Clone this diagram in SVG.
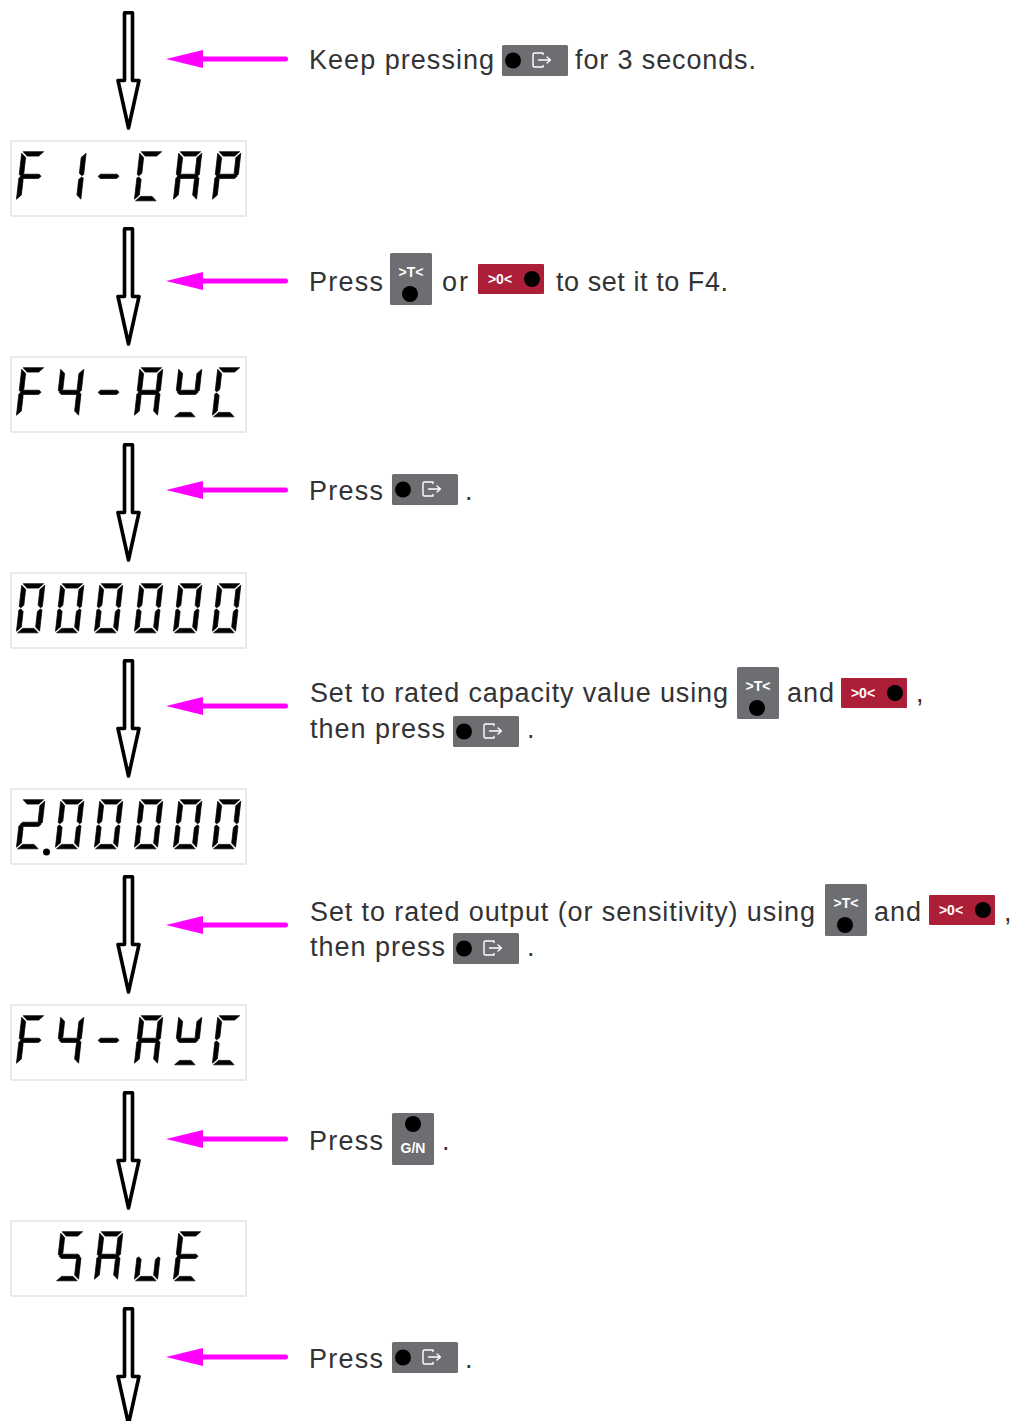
<svg xmlns="http://www.w3.org/2000/svg" width="1014" height="1421" viewBox="0 0 1014 1421">
<style>
.t{font-family:"Liberation Sans",Arial,sans-serif;font-size:27px;fill:#333335}
.box{fill:#fff;stroke:#dcdcdc;stroke-width:1.2}
.seg{fill:#000;stroke:#000;stroke-width:0.7;stroke-linejoin:round}
.down{fill:#fff;stroke:#000;stroke-width:3.6;stroke-linejoin:round}
.shaft{stroke:#f0f;stroke-width:5;stroke-linecap:round}
.head{fill:#f0f}
.bg{fill:#6d6e71}
.rd{fill:#ad1f38}
.dot{fill:#000}
.k{font-family:"Liberation Sans",Arial,sans-serif;font-weight:bold;fill:#fff;text-anchor:middle}
.ic{fill:none;stroke:#fff;stroke-width:1.4;stroke-linejoin:round;stroke-linecap:round}
</style>
<defs>
<polygon id="sa" class="seg" points="1.500,0.200 22,0.200 17.500,4.600 6,4.600"/>
<polygon id="sb" class="seg" points="23.300,1.800 23.300,23 21.500,24.200 18.900,21.800 18.900,6"/>
<polygon id="sc" class="seg" points="23.300,26.500 23.300,47.700 18.900,43.500 18.900,28 21.500,25.400"/>
<polygon id="sd" class="seg" points="6,44.900 17.500,44.900 22,49.300 1.500,49.300"/>
<polygon id="se" class="seg" points="0.200,26.500 2,25.400 4.600,28 4.600,43.500 0.200,47.700"/>
<polygon id="sf" class="seg" points="0.200,1.800 4.600,6 4.600,21.800 2,24.200 0.200,23"/>
<polygon id="sg" class="seg" points="3.500,22.700 20,22.700 22.200,24.800 20,26.900 3.500,26.900 1.300,24.800"/>
<g id="d0"><use href="#sa"/><use href="#sb"/><use href="#sc"/><use href="#sd"/><use href="#se"/><use href="#sf"/></g>
<g id="dF"><use href="#sa"/><use href="#se"/><use href="#sf"/><use href="#sg"/></g>
<g id="d1"><use href="#sb"/><use href="#sc"/></g>
<g id="dm"><use href="#sg"/></g>
<g id="dC"><use href="#sa"/><use href="#sd"/><use href="#se"/><use href="#sf"/></g>
<g id="dA"><use href="#sa"/><use href="#sb"/><use href="#sc"/><use href="#se"/><use href="#sf"/><use href="#sg"/></g>
<g id="dP"><use href="#sa"/><use href="#sb"/><use href="#se"/><use href="#sf"/><use href="#sg"/></g>
<g id="d4"><use href="#sb"/><use href="#sc"/><use href="#sf"/><use href="#sg"/></g>
<g id="dY"><use href="#sb"/><use href="#sd"/><use href="#sf"/><use href="#sg"/></g>
<g id="d2"><use href="#sa"/><use href="#sb"/><use href="#sd"/><use href="#se"/><use href="#sg"/></g>
<g id="dS"><use href="#sa"/><use href="#sc"/><use href="#sd"/><use href="#sf"/><use href="#sg"/></g>
<g id="du"><use href="#sc"/><use href="#sd"/><use href="#se"/></g>
<g id="dE"><use href="#sa"/><use href="#sd"/><use href="#se"/><use href="#sf"/><use href="#sg"/></g>
<path id="down" class="down" d="M124.500,1.800H132.500V69.500H139L128.500,117L118,69.500H124.500Z"/>
<g id="mag"><line class="shaft" x1="200" y1="0" x2="285.500" y2="0"/><polygon class="head" points="166,0 203,-9 203,9"/></g>
<g id="bExit"><rect class="bg" width="66" height="31" rx="1.500"/><circle class="dot" cx="11" cy="15.500" r="8"/><path class="ic" d="M41,9.500V8H32.500A1.500,1.500 0 0 0 31,9.500V20.500A1.500,1.500 0 0 0 32.500,22H41V20.500M36.500,15H48M45,12L48.500,15L45,18"/></g>
<g id="bT"><rect class="bg" width="42" height="52" rx="1.500"/><text class="k" x="21" y="23.500" font-size="14">&gt;T&lt;</text><circle class="dot" cx="20" cy="41" r="8"/></g>
<g id="bZ"><rect class="rd" width="66" height="30" rx="1"/><text class="k" x="22" y="19.500" font-size="14">&gt;0&lt;</text><circle class="dot" cx="54" cy="15" r="8"/></g>
<g id="bG"><rect class="bg" width="42" height="52" rx="1.500"/><circle class="dot" cx="21" cy="11" r="8"/><text class="k" x="21" y="39.500" font-size="14">G/N</text></g>
</defs>

<g id="connectors">
<use href="#down" x="0" y="11"/>
<use href="#down" x="0" y="227"/>
<use href="#down" x="0" y="443"/>
<use href="#down" x="0" y="659"/>
<use href="#down" x="0" y="875"/>
<use href="#down" x="0" y="1091"/>
<use href="#down" x="0" y="1307"/>
<use href="#mag" x="0" y="59"/>
<use href="#mag" x="0" y="281"/>
<use href="#mag" x="0" y="490"/>
<use href="#mag" x="0" y="706"/>
<use href="#mag" x="0" y="925"/>
<use href="#mag" x="0" y="1139"/>
<use href="#mag" x="0" y="1357"/>
</g>

<g id="display-f1-cap">
<rect class="box" x="11" y="141" width="235" height="75"/>
<use href="#dF" transform="translate(21.700,151.500) skewX(-6.500)"/>
<use href="#d1" transform="translate(63,151.500) skewX(-6.500)"/>
<use href="#dm" transform="translate(99.700,151.500) skewX(-6.500)"/>
<use href="#dC" transform="translate(139.700,151.500) skewX(-6.500)"/>
<use href="#dA" transform="translate(178.700,151.500) skewX(-6.500)"/>
<use href="#dP" transform="translate(217.700,151.500) skewX(-6.500)"/>
</g>
<g id="display-f4-avc-1">
<rect class="box" x="11" y="357" width="235" height="75"/>
<use href="#dF" transform="translate(21.700,367.500) skewX(-6.500)"/>
<use href="#d4" transform="translate(60.700,367.500) skewX(-6.500)"/>
<use href="#dm" transform="translate(99.700,367.500) skewX(-6.500)"/>
<use href="#dA" transform="translate(139.700,367.500) skewX(-6.500)"/>
<use href="#dY" transform="translate(178.700,367.500) skewX(-6.500)"/>
<use href="#dC" transform="translate(217.700,367.500) skewX(-6.500)"/>
</g>
<g id="display-000000">
<rect class="box" x="11" y="573" width="235" height="75"/>
<use href="#d0" transform="translate(21.700,583.500) skewX(-6.500)"/>
<use href="#d0" transform="translate(60.700,583.500) skewX(-6.500)"/>
<use href="#d0" transform="translate(99.700,583.500) skewX(-6.500)"/>
<use href="#d0" transform="translate(139.700,583.500) skewX(-6.500)"/>
<use href="#d0" transform="translate(178.700,583.500) skewX(-6.500)"/>
<use href="#d0" transform="translate(217.700,583.500) skewX(-6.500)"/>
</g>
<g id="display-200000">
<rect class="box" x="11" y="789" width="235" height="75"/>
<use href="#d2" transform="translate(21.700,799.500) skewX(-6.500)"/>
<circle class="dot" cx="46.500" cy="852" r="3.500"/>
<use href="#d0" transform="translate(60.700,799.500) skewX(-6.500)"/>
<use href="#d0" transform="translate(99.700,799.500) skewX(-6.500)"/>
<use href="#d0" transform="translate(139.700,799.500) skewX(-6.500)"/>
<use href="#d0" transform="translate(178.700,799.500) skewX(-6.500)"/>
<use href="#d0" transform="translate(217.700,799.500) skewX(-6.500)"/>
</g>
<g id="display-f4-avc-2">
<rect class="box" x="11" y="1005" width="235" height="75"/>
<use href="#dF" transform="translate(21.700,1015.500) skewX(-6.500)"/>
<use href="#d4" transform="translate(60.700,1015.500) skewX(-6.500)"/>
<use href="#dm" transform="translate(99.700,1015.500) skewX(-6.500)"/>
<use href="#dA" transform="translate(139.700,1015.500) skewX(-6.500)"/>
<use href="#dY" transform="translate(178.700,1015.500) skewX(-6.500)"/>
<use href="#dC" transform="translate(217.700,1015.500) skewX(-6.500)"/>
</g>
<g id="display-save">
<rect class="box" x="11" y="1221" width="235" height="75"/>
<use href="#dS" transform="translate(60.700,1231.500) skewX(-6.500)"/>
<use href="#dA" transform="translate(99.700,1231.500) skewX(-6.500)"/>
<use href="#du" transform="translate(139.700,1231.500) skewX(-6.500)"/>
<use href="#dE" transform="translate(178.700,1231.500) skewX(-6.500)"/>
</g>

<g id="step-1">
<text class="t" x="309" y="68.500" textLength="185">Keep pressing</text><use href="#bExit" x="502" y="45"/><text class="t" x="575" y="68.500" textLength="181">for 3 seconds.</text>
</g>
<g id="step-2">
<text class="t" x="309" y="290.500" textLength="74">Press</text><use href="#bT" x="390" y="253"/><text class="t" x="442" y="290.500" textLength="26">or</text><use href="#bZ" x="478" y="264"/><text class="t" x="556" y="290.500" textLength="172">to set it to F4.</text>
</g>
<g id="step-3">
<text class="t" x="309" y="499.500" textLength="74">Press</text><use href="#bExit" x="392" y="474"/><text class="t" x="465" y="499.500">.</text>
</g>
<g id="step-4">
<text class="t" x="310" y="701.500" textLength="418">Set to rated capacity value using</text><use href="#bT" x="737" y="667"/><text class="t" x="787" y="701.500" textLength="47">and</text><use href="#bZ" x="841" y="678"/><text class="t" x="916" y="701.500">,</text>
<text class="t" x="310" y="738" textLength="135">then press</text><use href="#bExit" x="453" y="716"/><text class="t" x="527" y="738">.</text>
</g>
<g id="step-5">
<text class="t" x="310" y="920.500" textLength="505">Set to rated output (or sensitivity) using</text><use href="#bT" x="825" y="884"/><text class="t" x="874" y="920.500" textLength="47">and</text><use href="#bZ" x="929" y="895"/><text class="t" x="1004" y="920.500">,</text>
<text class="t" x="310" y="956" textLength="135">then press</text><use href="#bExit" x="453" y="933"/><text class="t" x="527" y="956">.</text>
</g>
<g id="step-6">
<text class="t" x="309" y="1149.500" textLength="74">Press</text><use href="#bG" x="392" y="1113"/><text class="t" x="442" y="1149.500">.</text>
</g>
<g id="step-7">
<text class="t" x="309" y="1367.500" textLength="74">Press</text><use href="#bExit" x="392" y="1342"/><text class="t" x="465" y="1367.500">.</text>
</g>
</svg>
